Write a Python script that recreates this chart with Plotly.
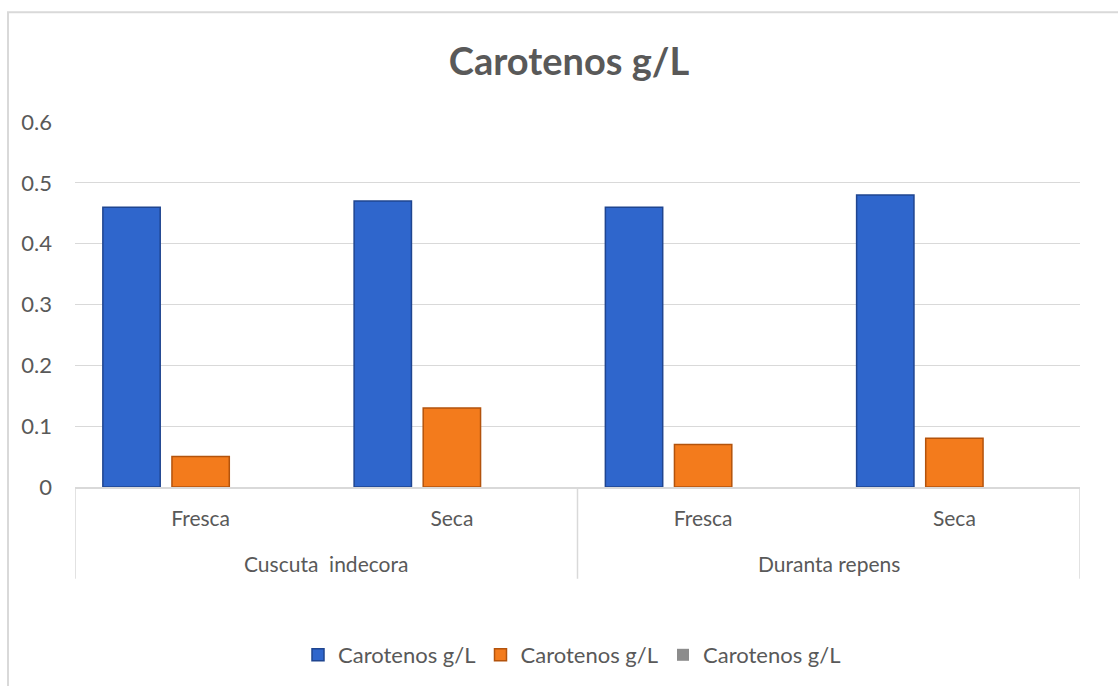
import plotly.graph_objects as go

# Species (outer level) and sample condition (inner level)
species = ["Cuscuta\u00a0 indecora", "Cuscuta\u00a0 indecora", "Duranta repens", "Duranta repens"]
condition = ["Fresca", "Seca", "Fresca", "Seca"]

# Carotenoid concentration, g/L
serie_1 = [0.46, 0.47, 0.46, 0.48]
serie_2 = [0.05, 0.13, 0.07, 0.08]
serie_3 = [0.0, 0.0, 0.0, 0.0]

series_names = ["Carotenos g/L", "Carotenos g/L", "Carotenos g/L"]
y_ticks = [0, 0.1, 0.2, 0.3, 0.4, 0.5, 0.6]

fill_colors = ["#2f66cc", "#f37b1c", "#8c8c8c"]
edge_colors = ["#1f4590", "#b3530c", "#8c8c8c"]
edge_widths = [1.5, 1.5, 0]

TXT = "#595959"
GRID = "#d9d9d9"
FONT = "Lato, 'Open Sans', sans-serif"

# category slots along the x axis
pos = list(range(len(condition)))

fig = go.Figure()
for name, vals, fc, ec, ew in zip(series_names, [serie_1, serie_2, serie_3],
                                  fill_colors, edge_colors, edge_widths):
    fig.add_trace(go.Bar(
        x=pos,
        y=vals,
        name=name,
        marker=dict(color=fc, line=dict(color=ec, width=ew)),
    ))

# plot area in pixels: x 75..1080, y 122..488
W, H = 1118, 686
L, R, T, B = 75, 38, 122, 198
pw = W - L - R
ph = H - T - B

def px_x(p):
    return (p - L) / pw

def px_y(p):
    return (H - B - p) / ph

# outer-level group labels and dividers
groups = []
for i, s in enumerate(species):
    if not groups or groups[-1][0] != s:
        groups.append([s, i, i])
    else:
        groups[-1][2] = i

annotations = []
shapes = []
for name, i0, i1 in groups:
    annotations.append(dict(
        text=name, x=(pos[i0] + pos[i1]) / 2, xref="x",
        y=px_y(565), yref="paper", yanchor="middle", xanchor="center",
        showarrow=False, font=dict(size=21, color=TXT, family=FONT),
    ))
    shapes.append(dict(type="line", xref="x", yref="paper",
                       x0=pos[i0] - 0.5, x1=pos[i0] - 0.5, y0=0, y1=px_y(580),
                       line=dict(color=GRID, width=1.5)))
shapes.append(dict(type="line", xref="x", yref="paper",
                   x0=pos[-1] + 0.5, x1=pos[-1] + 0.5, y0=0, y1=px_y(580),
                   line=dict(color=GRID, width=1.5)))

# chart frame
shapes.append(dict(type="rect", xref="paper", yref="paper",
                   x0=px_x(8), x1=px_x(1140), y0=px_y(720), y1=px_y(12),
                   line=dict(color=GRID, width=2), fillcolor="rgba(0,0,0,0)",
                   layer="below"))

fig.update_layout(
    width=W, height=H,
    margin=dict(l=L, r=R, t=T, b=B),
    paper_bgcolor="white",
    plot_bgcolor="white",
    font=dict(family=FONT, color=TXT, size=21),
    barmode="group",
    bargap=0.175,
    bargroupgap=0.17,
    title=dict(
        text="<b>Carotenos g/L</b>",
        font=dict(size=38, color=TXT, family=FONT),
        x=px_x(569), xref="paper", xanchor="center",
        y=1 - 62 / H, yref="container", yanchor="middle",
    ),
    showlegend=True,
    legend=dict(
        orientation="h",
        x=px_x(572), xanchor="center",
        y=px_y(655), yanchor="middle",
        font=dict(size=22, color=TXT),
        itemwidth=30,
        traceorder="normal",
    ),
    xaxis=dict(
        range=[-0.5, len(pos) - 0.5],
        tickvals=pos, ticktext=condition,
        showline=True, linecolor=GRID, linewidth=1.5,
        ticks="", tickfont=dict(size=21, color=TXT),
        ticklabelstandoff=12,
        showgrid=False, zeroline=False,
    ),
    yaxis=dict(
        range=[0, 0.6],
        tickvals=y_ticks,
        ticktext=[("%g" % v) for v in y_ticks],
        showgrid=True, gridcolor=GRID, gridwidth=1.2,
        zeroline=False, showline=False,
        tickfont=dict(size=22, color=TXT),
        ticklabelstandoff=22,
    ),
    annotations=annotations,
    shapes=shapes,
)

fig.write_html("out.html")
